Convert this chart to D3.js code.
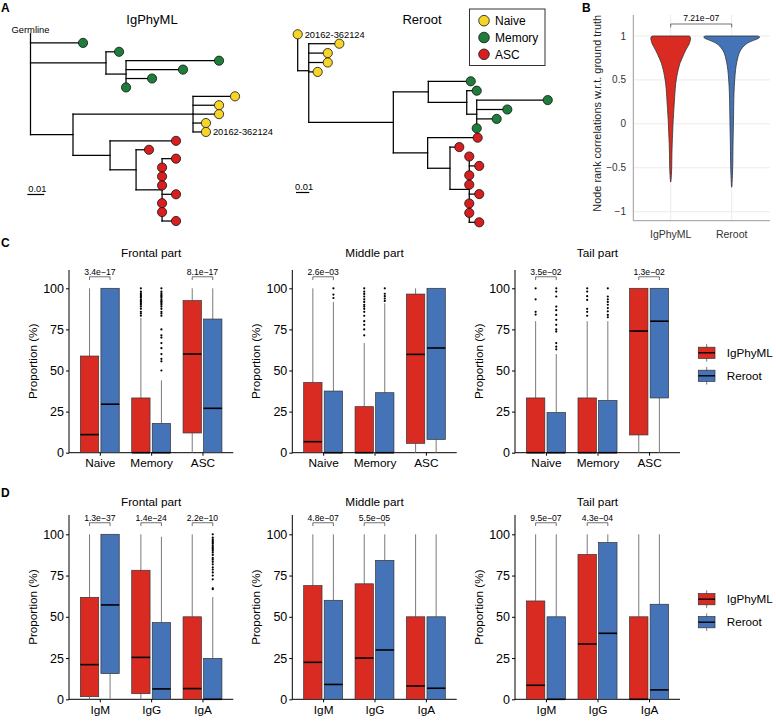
<!DOCTYPE html>
<html><head><meta charset="utf-8">
<script src="https://cdn.jsdelivr.net/npm/d3@7"></script>
<style>body{margin:0;background:#fff}svg text{font-family:"Liberation Sans",Arial,sans-serif}</style>
</head><body><svg id="c" width="776" height="721"></svg>
<script>
// ================= DATA =================
const cellTypes = ["Naive", "Memory", "ASC"];
const isotypes = ["IgM", "IgG", "IgA"];
const methods = ["IgPhyML", "Reroot"];
const leafLabel = "20162-362124";
const pctTicks = [0, 25, 50, 75, 100];
const corrTicks = [-1, -0.5, 0, 0.5, 1];

// Trees: internal {d: distance from root, c: children}; leaf {t: cell type index, d}
const treeIgPhyML = {d: 0, c: [
  {g: 1, d: 0},
  {t: 1, d: 0.0309},
  {d: 0.0444, c: [{t: 1, d: 0.0521}, {d: 0.0562, c: [{t: 1, d: 0.1109}, {t: 1, d: 0.0897}, {t: 1, d: 0.0715}, {t: 1, d: 0.0562}]}]},
  {d: 0.0250, c: [
    {d: 0.0956, c: [{t: 0, d: 0.1203}, {t: 0, d: 0.1109}, {t: 0, d: 0.1109}, {t: 0, d: 0.1032}, {t: 0, d: 0.1032, lab: 1}]},
    {d: 0.0468, c: [{t: 2, d: 0.0856}, {d: 0.0621, c: [{t: 2, d: 0.0697}, {d: 0.0774, c: [
      {t: 2, d: 0.0856}, {t: 2, d: 0.0774}, {t: 2, d: 0.0774}, {t: 2, d: 0.0774},
      {t: 2, d: 0.0856}, {t: 2, d: 0.0774}, {t: 2, d: 0.0774}, {t: 2, d: 0.0856}]}]}]}
  ]}
]};
const treeReroot = {d: 0, c: [
  {t: 0, d: 0, lab: 1},
  {d: 0.0083, c: [
    {t: 0, d: 0.0313}, {t: 0, d: 0.0226}, {t: 0, d: 0.0226}, {t: 0, d: 0.0150},
    {d: 0.0719, c: [
      {d: 0.0982, c: [{t: 1, d: 0.1301}, {d: 0.1271, c: [{t: 1, d: 0.1346}, {d: 0.1346, c: [{t: 1, d: 0.1880}, {t: 1, d: 0.1576}, {t: 1, d: 0.1496}, {t: 1, d: 0.1346}]}]}]},
      {d: 0.0977, c: [{t: 2, d: 0.1353}, {d: 0.1145, c: [{t: 2, d: 0.1215}, {d: 0.1290, c: [
        {t: 2, d: 0.1290}, {t: 2, d: 0.1365}, {t: 2, d: 0.1290}, {t: 2, d: 0.1290},
        {t: 2, d: 0.1365}, {t: 2, d: 0.1290}, {t: 2, d: 0.1290}, {t: 2, d: 0.1365}]}]}]}
    ]}
  ]}
]};

// Violin profiles (value, relative density)
const igphymlViolinY = [1.0, 0.99, 0.97, 0.94, 0.91, 0.88, 0.84, 0.80, 0.75, 0.69, 0.62, 0.55, 0.46, 0.35, 0.25, 0.10, 0.0, -0.12, -0.22, -0.35, -0.49, -0.58, -0.66];
const igphymlViolinD = [0.66, 0.70, 0.71, 0.69, 0.66, 0.61, 0.54, 0.48, 0.41, 0.33, 0.27, 0.225, 0.18, 0.15, 0.13, 0.10, 0.082, 0.068, 0.054, 0.043, 0.036, 0.025, 0.007];
const rerootViolinY = [1.0, 0.99, 0.975, 0.96, 0.94, 0.92, 0.90, 0.87, 0.83, 0.77, 0.70, 0.62, 0.50, 0.35, 0.20, 0.0, -0.25, -0.49, -0.62, -0.72];
const rerootViolinD = [0.93, 1.0, 0.96, 0.86, 0.70, 0.57, 0.48, 0.39, 0.30, 0.23, 0.18, 0.14, 0.107, 0.082, 0.071, 0.061, 0.046, 0.036, 0.021, 0.007];
const violinP = "7.21e\u221207";

// Boxplot stats: [lower whisker, Q1, median, Q3, upper whisker] per category
const cFrontalIgPhyML = [[0, 0, 11, 58.8, 100], [0, 0, 0, 33.3, 82], [0, 12, 60, 92.5, 100]];
const cFrontalReroot  = [[0, 0, 29.5, 100, 100], [0, 0, 0, 17.8, 44], [0, 0, 27, 81.3, 100]];
const cMiddleIgPhyML  = [[0, 0, 6.7, 42.7, 100], [0, 0, 0, 28, 66.7], [0, 5.7, 59.8, 96.5, 100]];
const cMiddleReroot   = [[0, 0, 0, 37.5, 91.7], [0, 0, 0, 36.5, 90.9], [0, 8.1, 63.7, 100, 100]];
const cTailIgPhyML    = [[0, 0, 0, 33.3, 80], [0, 0, 0, 33.3, 80], [0, 10.8, 74, 100, 100]];
const cTailReroot     = [[0, 0, 0, 24.4, 60], [0, 0, 0, 31.8, 80], [0, 33.3, 80, 100, 100]];
const dFrontalIgPhyML = [[0, 1.6, 21, 61.8, 100], [0, 3.4, 25.4, 78.2, 100], [0, 0, 6.5, 50, 100]];
const dFrontalReroot  = [[0, 15.6, 57.2, 100, 100], [0, 0, 6.3, 46.5, 98.5], [0, 0, 0, 24.8, 62]];
const dMiddleIgPhyML  = [[0, 0, 22.4, 68.9, 100], [0, 0, 25, 70, 100], [0, 0, 8.1, 50, 100]];
const dMiddleReroot   = [[0, 0, 9, 60, 100], [0, 0, 29.9, 84.2, 100], [0, 0, 6.7, 50, 100]];
const dTailIgPhyML    = [[0, 0, 8.5, 59.6, 100], [0, 0, 33.5, 87.8, 100], [0, 0, 0, 50, 100]];
const dTailReroot     = [[0, 0, 0, 50, 100], [0, 0, 40, 95, 100], [0, 0, 5.7, 57.6, 100]];

// Outliers per category
const cFrontalIgPhyMLOut = [[], [83.3, 84.6, 85.7, 87.5, 88.9, 90, 90.9, 91.7, 92.3, 93.3, 94.4, 95.2, 96, 97, 98, 100], []];
const cFrontalRerootOut  = [[], [50, 55.6, 57.1, 60, 63.6, 66.7, 70, 71.4, 75, 83.3, 84.6, 85.7, 87.5, 88.9, 90, 90.9, 91.7, 92.3, 93.3, 94.4, 95.2, 96, 97, 98, 100], []];
const cMiddleIgPhyMLOut  = [[], [71.4, 75, 77.8, 80, 83.3, 85.7, 87.5, 88.9, 90, 91.7, 93.3, 95, 96.6, 98, 100], []];
const cMiddleRerootOut   = [[94.1, 96.2, 100], [92.3, 93.8, 95.2, 96.7, 100], []];
const cTailIgPhyMLOut    = [[84, 85.7, 93.3, 100], [83.3, 85.7, 87.5, 92.9, 95.2, 98, 100], []];
const cTailRerootOut     = [[62.9, 64.5, 66.7, 73.7, 75, 77.8, 80.8, 83.8, 86.7, 88.9, 95, 98, 100], [82.4, 83.8, 86, 88, 90, 91.7, 93.3, 95, 100], []];
const dFrontalIgPhyMLOut = [[], [], []];
const dFrontalRerootOut  = [[], [], [66.7, 67.3, 72.7, 75, 76.9, 78.6, 80, 81.8, 83.3, 84.6, 85.7, 87.5, 88.9, 90, 90.9, 91.7, 92.3, 93.3, 94.4, 95.2, 96, 97, 98, 100]];
const emptyOut = [[], [], []];

// Wilcoxon p-values per category (null = not shown)
const cFrontalP = ["3.4e\u221217", null, "8.1e\u221217"];
const cMiddleP  = ["2.6e\u221203", null, null];
const cTailP    = ["3.5e\u221202", null, "1.3e\u221202"];
const dFrontalP = ["1.3e\u221237", "1.4e\u221224", "2.2e\u221210"];
const dMiddleP  = ["4.8e\u221207", "5.5e\u221205", null];
const dTailP    = ["9.5e\u221207", "4.3e\u221204", null];

// ================= STYLE =================
const typeColors = ["#F7D428", "#1E7D3A", "#D81E1E"];
const methodColors = ["#DA2B23", "#4473B8"];
const FONT = '"Liberation Sans", Arial, sans-serif';
const svg = d3.select("#c");

function txt(x, y, s, size, opts = {}) {
  const t = svg.append("text").attr("x", x).attr("y", y).text(s)
    .attr("font-size", size).attr("fill", opts.fill || "#000")
    .attr("text-anchor", opts.anchor || "start");
  if (opts.bold) t.attr("font-weight", "bold");
  if (opts.rotate) t.attr("transform", `rotate(-90,${x},${y})`);
  if (opts.baseline) t.attr("dominant-baseline", opts.baseline);
  return t;
}

// Panel labels
txt(1, 12, "A", 12, {bold: true});
txt(582, 12, "B", 12, {bold: true});
txt(1, 246.5, "C", 12, {bold: true});
txt(1, 497, "D", 12, {bold: true});

// ================= TREES =================
function drawTree(data, xs, ys) {
  const h = d3.hierarchy(data, d => d.c);
  let i = 0;
  h.eachAfter(n => {
    if (!n.children) n.yi = i++;
    else n.yi = d3.mean(n.children, c => c.yi);
  });
  const g = svg.append("g").attr("stroke", "#000").attr("stroke-width", 1.25).attr("stroke-linecap", "square");
  h.each(n => {
    if (n.parent) {
      g.append("line").attr("x1", xs(n.parent.data.d)).attr("x2", xs(n.data.d))
        .attr("y1", ys(n.yi)).attr("y2", ys(n.yi));
    }
    if (n.children) {
      const ext = d3.extent(n.children, c => c.yi);
      g.append("line").attr("x1", xs(n.data.d)).attr("x2", xs(n.data.d))
        .attr("y1", ys(ext[0])).attr("y2", ys(ext[1]));
    }
  });
  h.leaves().forEach(n => {
    if (n.data.g) {
      txt(xs(n.data.d), ys(n.yi) - 1.5, "Germline", 9.4, {anchor: "middle"});
      return;
    }
    svg.append("circle").attr("cx", xs(n.data.d)).attr("cy", ys(n.yi)).attr("r", 4.6)
      .attr("fill", typeColors[n.data.t]).attr("stroke", "#111").attr("stroke-width", 0.8);
    if (n.data.lab) txt(xs(n.data.d) + 7, ys(n.yi) + 3.3, leafLabel, 9.3);
  });
}
const xT1 = d3.scaleLinear().domain([0, 0.01]).range([30.5, 47.5]);
const yT1 = d3.scaleLinear().domain([0, 21]).range([34, 221]);
drawTree(treeIgPhyML, xT1, yT1);
const xT2 = d3.scaleLinear().domain([0, 0.01]).range([297.7, 311.0]);
const yT2 = d3.scaleLinear().domain([0, 20]).range([34.3, 222.3]);
drawTree(treeReroot, xT2, yT2);

txt(152, 23.5, methods[0], 13, {anchor: "middle"});
txt(422, 23.5, methods[1], 13, {anchor: "middle"});
// scale bars
function scaleBar(xs, x, y) {
  const len = xs(0.01) - xs(0);
  svg.append("line").attr("x1", x).attr("x2", x + len).attr("y1", y).attr("y2", y).attr("stroke", "#000").attr("stroke-width", 1.2);
  txt(x + len / 2 + 1.5, y - 3, "0.01", 9.3, {anchor: "middle"});
}
scaleBar(xT1, 27.3, 194.5);
scaleBar(xT2, 296, 192.5);

// Cell-type legend
svg.append("rect").attr("x", 469.5).attr("y", 9).attr("width", 75.5).attr("height", 56.5)
  .attr("fill", "#fff").attr("stroke", "#333").attr("stroke-width", 1);
cellTypes.forEach((c, i) => {
  const yy = 20.7 + i * 16.8;
  svg.append("circle").attr("cx", 484).attr("cy", yy).attr("r", 5.3).attr("fill", typeColors[i]).attr("stroke", "#111").attr("stroke-width", 0.8);
  txt(495, yy + 4.3, c, 12);
});

// ================= PANEL B (violins) =================
(function () {
  const left = 633.3, right = 770, top = 15, bottom = 220.7;
  const ys = d3.scaleLinear().domain([-1, 1]).range([211.7, 36]);
  const xs = d3.scalePoint().domain(methods).range([670.7, 731.7]);
  const ws = d3.scaleLinear().domain([0, 1]).range([0, 28]);
  const g = svg.append("g");
  corrTicks.forEach(t => g.append("line").attr("x1", left).attr("x2", right).attr("y1", ys(t)).attr("y2", ys(t)).attr("stroke", "#EBEBEB").attr("stroke-width", 1));
  methods.forEach(m => g.append("line").attr("x1", xs(m)).attr("x2", xs(m)).attr("y1", top).attr("y2", bottom).attr("stroke", "#EBEBEB").attr("stroke-width", 1));
  g.append("line").attr("x1", left).attr("x2", left).attr("y1", top).attr("y2", bottom).attr("stroke", "#9a9a9a").attr("stroke-width", 1);
  g.append("line").attr("x1", left).attr("x2", right).attr("y1", bottom).attr("y2", bottom).attr("stroke", "#9a9a9a").attr("stroke-width", 1);
  corrTicks.forEach(t => txt(626, ys(t) + 3.5, t === 0 ? "0" : (t < 0 ? "\u2212" + Math.abs(t) : String(t)), 10, {anchor: "end", fill: "#333"}));
  methods.forEach(m => txt(xs(m), 238, m, 10.5, {anchor: "middle", fill: "#333"}));
  txt(598.5, 113.3, "Node rank correlations w.r.t. ground truth", 10.9, {anchor: "middle", rotate: true, fill: "#222", baseline: "middle"});
  const profiles = [[igphymlViolinY, igphymlViolinD], [rerootViolinY, rerootViolinD]];
  profiles.forEach((p, k) => {
    const cx = xs(methods[k]);
    const pts = p[0].map((v, i) => [v, p[1][i]]);
    const area = d3.area().y(d => ys(d[0])).x0(d => cx - ws(d[1])).x1(d => cx + ws(d[1])).curve(d3.curveCatmullRom);
    g.append("path").attr("d", area(pts)).attr("fill", methodColors[k]).attr("stroke", "#333").attr("stroke-width", 0.8);
  });
  const by = 24;
  g.append("path").attr("d", `M${xs(methods[0])},${by + 3.3}V${by}H${xs(methods[1])}V${by + 3.3}`).attr("fill", "none").attr("stroke", "#333").attr("stroke-width", 0.7);
  txt((xs(methods[0]) + xs(methods[1])) / 2, by - 3, violinP, 8.6, {anchor: "middle"});
})();

// ================= BOXPLOT PANELS =================
function drawBoxPanel(P) {
  const xs = d3.scalePoint().domain(P.cats).range([P.x0, P.x1]).padding(0.6);
  const ys = d3.scaleLinear().domain([0, 100]).range([P.y0, P.y100]);
  const step = xs.step(), off = step * 0.2, bw = step * 0.357;
  const g = svg.append("g");
  txt((P.x0 + P.x1) / 2, P.titleY, P.title, 11.8, {anchor: "middle"});
  txt(P.x0 - 32, (P.yTop + P.y0) / 2, "Proportion (%)", 11.7, {anchor: "middle", rotate: true});
  const ya = g.append("g").attr("transform", `translate(${P.x0},0)`)
    .call(d3.axisLeft(ys).tickValues(pctTicks).tickSize(3).tickPadding(2));
  ya.select(".domain").remove();
  ya.selectAll("text").attr("font-size", 12.5).attr("fill", "#000").attr("font-family", FONT);
  ya.selectAll("line").attr("stroke", "#000");
  const xa = g.append("g").attr("transform", `translate(0,${P.y0})`)
    .call(d3.axisBottom(xs).tickSize(3).tickPadding(3));
  xa.select(".domain").remove();
  xa.selectAll("text").attr("font-size", 11.8).attr("fill", "#000").attr("font-family", FONT);
  xa.selectAll("line").attr("stroke", "#000");
  g.append("line").attr("x1", P.x0).attr("x2", P.x0).attr("y1", P.yTop).attr("y2", P.y0 + 0.5).attr("stroke", "#000").attr("stroke-width", 1);
  g.append("line").attr("x1", P.x0).attr("x2", P.x1).attr("y1", P.y0).attr("y2", P.y0).attr("stroke", "#000").attr("stroke-width", 1);

  [P.sA, P.sB].forEach((stats, m) => {
    const outs = m ? P.oB : P.oA;
    stats.forEach((s, i) => {
      const cx = xs(P.cats[i]) + (m ? off : -off);
      const [lo, q1, med, q3, hi] = s;
      if (hi > q3) g.append("line").attr("x1", cx).attr("x2", cx).attr("y1", ys(q3)).attr("y2", ys(hi)).attr("stroke", "#7a7a7a").attr("stroke-width", 1);
      if (lo < q1) g.append("line").attr("x1", cx).attr("x2", cx).attr("y1", ys(q1)).attr("y2", ys(lo)).attr("stroke", "#7a7a7a").attr("stroke-width", 1);
      g.append("rect").attr("x", cx - bw / 2).attr("width", bw).attr("y", ys(q3)).attr("height", Math.max(0, ys(q1) - ys(q3)))
        .attr("fill", methodColors[m]).attr("stroke", "#333").attr("stroke-width", 0.7);
      g.append("line").attr("x1", cx - bw / 2).attr("x2", cx + bw / 2).attr("y1", ys(med)).attr("y2", ys(med)).attr("stroke", "#000").attr("stroke-width", 1.6);
      outs[i].forEach(v => g.append("circle").attr("cx", cx).attr("cy", ys(v)).attr("r", 1.1).attr("fill", "#000"));
    });
  });
  P.pv.forEach((p, i) => {
    if (!p) return;
    const xa1 = xs(P.cats[i]) - off, xb1 = xs(P.cats[i]) + off, by = ys(107);
    g.append("path").attr("d", `M${xa1},${by + 3.3}V${by}H${xb1}V${by + 3.3}`).attr("fill", "none").attr("stroke", "#333").attr("stroke-width", 0.7);
    txt((xa1 + xb1) / 2, by - 1.8, p, 8.6, {anchor: "middle"});
  });
}

function drawMethodLegend(yc) {
  methods.forEach((m, i) => {
    const y = yc + i * 23;
    svg.append("line").attr("x1", 706.7).attr("x2", 706.7).attr("y1", y - 8.8).attr("y2", y + 8.8).attr("stroke", "#7a7a7a").attr("stroke-width", 1);
    svg.append("rect").attr("x", 698.3).attr("y", y - 5.6).attr("width", 16.7).attr("height", 11.2).attr("fill", methodColors[i]).attr("stroke", "#333").attr("stroke-width", 0.7);
    svg.append("line").attr("x1", 698.3).attr("x2", 715).attr("y1", y).attr("y2", y).attr("stroke", "#000").attr("stroke-width", 1.4);
    txt(726.7, y + 4.2, m, 11.7);
  });
}

const colsX = [[69, 233.3], [292.3, 456.7], [515, 680]];
const titles = ["Frontal part", "Middle part", "Tail part"];
const cRow = {y0: 452.7, y100: 288.3, yTop: 270, titleY: 257.3};
const dRow = {y0: 699.3, y100: 534.3, yTop: 515, titleY: 505.5};
const cData = [[cFrontalIgPhyML, cFrontalReroot, cFrontalIgPhyMLOut, cFrontalRerootOut, cFrontalP],
               [cMiddleIgPhyML, cMiddleReroot, cMiddleIgPhyMLOut, cMiddleRerootOut, cMiddleP],
               [cTailIgPhyML, cTailReroot, cTailIgPhyMLOut, cTailRerootOut, cTailP]];
const dData = [[dFrontalIgPhyML, dFrontalReroot, dFrontalIgPhyMLOut, dFrontalRerootOut, dFrontalP],
               [dMiddleIgPhyML, dMiddleReroot, emptyOut, emptyOut, dMiddleP],
               [dTailIgPhyML, dTailReroot, emptyOut, emptyOut, dTailP]];
[[cRow, cData, cellTypes], [dRow, dData, isotypes]].forEach(([row, data, cats]) => {
  data.forEach((d, k) => drawBoxPanel({
    x0: colsX[k][0], x1: colsX[k][1], y0: row.y0, y100: row.y100, yTop: row.yTop, titleY: row.titleY,
    title: titles[k], cats: cats, sA: d[0], sB: d[1], oA: d[2], oB: d[3], pv: d[4]
  }));
});
drawMethodLegend(352.8);
drawMethodLegend(599.2);
</script></body></html>
